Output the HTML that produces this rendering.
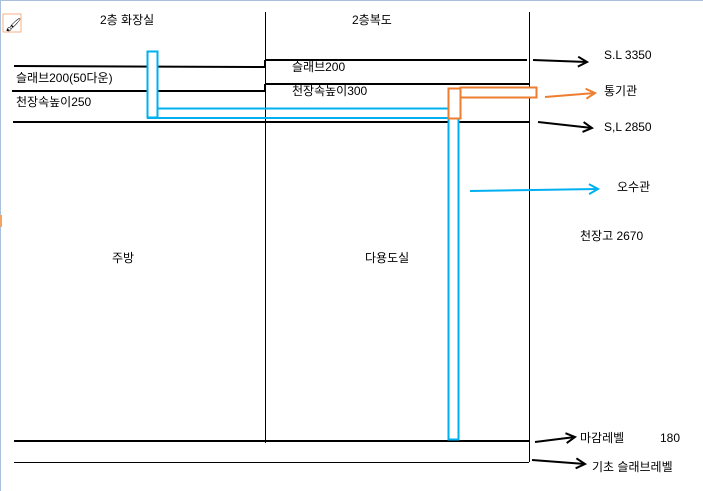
<!DOCTYPE html>
<html><head><meta charset="utf-8"><style>
html,body{margin:0;padding:0;background:#fff;}
svg{display:block;}
text{font-family:"Liberation Sans","Noto Sans CJK KR",sans-serif;font-size:12px;fill:#000;}
</style></head><body>
<svg width="703" height="491" viewBox="0 0 703 491" xmlns="http://www.w3.org/2000/svg">
<defs>
<marker id="ak" markerWidth="12" markerHeight="12" refX="10" refY="6" orient="auto" markerUnits="userSpaceOnUse"><path d="M1,1 L10,6 L1,11" fill="none" stroke="#000" stroke-width="2"/></marker>
<marker id="ao" markerWidth="12" markerHeight="12" refX="10" refY="6" orient="auto" markerUnits="userSpaceOnUse"><path d="M1,1 L10,6 L1,11" fill="none" stroke="#ed7d31" stroke-width="2"/></marker>
<marker id="ab" markerWidth="12" markerHeight="12" refX="10" refY="6" orient="auto" markerUnits="userSpaceOnUse"><path d="M1,1 L10,6 L1,11" fill="none" stroke="#00b0f0" stroke-width="2"/></marker>
</defs>
<line x1="0" y1="0.5" x2="703" y2="0.5" stroke="#a9c0dc" stroke-width="1"/>
<line x1="0.5" y1="0" x2="0.5" y2="491" stroke="#a9c0dc" stroke-width="1"/>
<rect x="0" y="215" width="2" height="12" fill="#f4a460"/>
<rect x="3" y="14" width="18" height="18" fill="none" stroke="#f4b183" stroke-width="1"/>
<text x="5" y="29" style="font-size:13px">🖌</text>
<line x1="265.5" y1="12" x2="265.5" y2="443" stroke="#000" stroke-width="1"/>
<line x1="529.5" y1="12" x2="529.5" y2="462" stroke="#000" stroke-width="1"/>
<line x1="265" y1="60" x2="527" y2="60" stroke="#000" stroke-width="2"/>
<polyline points="14,66 265,67 265,60" fill="none" stroke="#000" stroke-width="2"/>
<line x1="265" y1="84" x2="529" y2="84" stroke="#000" stroke-width="2"/>
<polyline points="12,91 265,91 265,84" fill="none" stroke="#000" stroke-width="2"/>
<line x1="13" y1="122" x2="529" y2="122" stroke="#000" stroke-width="2"/>
<line x1="14" y1="441" x2="529" y2="441" stroke="#000" stroke-width="2"/>
<line x1="14" y1="462.5" x2="529" y2="462.5" stroke="#000" stroke-width="1"/>
<rect x="147.5" y="51.5" width="10" height="66" fill="#fff" stroke="#00b0f0" stroke-width="2"/>
<line x1="157" y1="108.5" x2="449" y2="108.5" stroke="#00b0f0" stroke-width="2"/>
<line x1="147" y1="118" x2="449" y2="118" stroke="#00b0f0" stroke-width="2"/>
<rect x="448.5" y="118.5" width="10" height="321" fill="#fff" stroke="#00b0f0" stroke-width="2"/>
<rect x="448.5" y="88.5" width="12" height="30" fill="#fff" stroke="#ed7d31" stroke-width="2"/>
<rect x="460.5" y="87.5" width="76" height="10" fill="#fff" stroke="#ed7d31" stroke-width="2"/>
<line x1="533" y1="60" x2="587" y2="62" stroke="#000" stroke-width="2" marker-end="url(#ak)"/>
<line x1="545" y1="97" x2="595" y2="93" stroke="#ed7d31" stroke-width="2" marker-end="url(#ao)"/>
<line x1="538" y1="122" x2="592" y2="128" stroke="#000" stroke-width="2" marker-end="url(#ak)"/>
<line x1="470" y1="191" x2="598" y2="189" stroke="#00b0f0" stroke-width="2" marker-end="url(#ab)"/>
<line x1="535" y1="442" x2="575" y2="437" stroke="#000" stroke-width="2" marker-end="url(#ak)"/>
<line x1="532" y1="460" x2="585" y2="464" stroke="#000" stroke-width="2" marker-end="url(#ak)"/>
<text x="100" y="24">2층 화장실</text>
<text x="352" y="24">2층복도</text>
<text x="604" y="59">S.L 3350</text>
<text x="604" y="95">통기관</text>
<text x="604" y="131">S,L 2850</text>
<text x="617" y="191">오수관</text>
<text x="580" y="240">천장고 2670</text>
<text x="112" y="262">주방</text>
<text x="365" y="262">다용도실</text>
<text x="580" y="442">마감레벨</text>
<text x="660" y="442">180</text>
<text x="592" y="471">기초 슬래브레벨</text>
<text x="16" y="82">슬래브200(50다운)</text>
<text x="16" y="106">천장속높이250</text>
<text x="292" y="71">슬래브200</text>
<text x="292" y="95">천장속높이300</text>
</svg>
</body></html>
